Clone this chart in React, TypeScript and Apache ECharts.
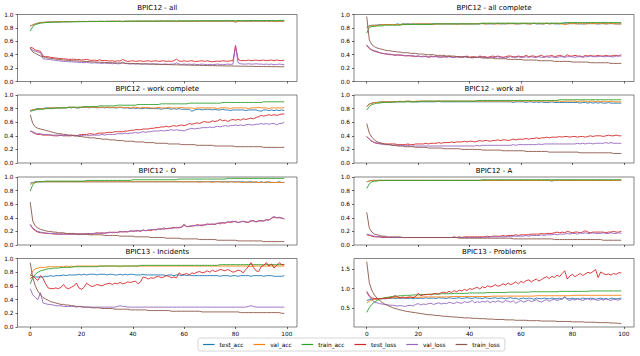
import React, { useEffect, useRef } from 'react';
import * as echarts from 'echarts';

const seriesNames = ['test_acc', 'val_acc', 'train_acc', 'test_loss', 'val_loss', 'train_loss'];
const seriesColors = ['#1f77b4', '#ff7f0e', '#2ca02c', '#d62728', '#9467bd', '#8c564b'];
const titles = [
  'BPIC12 - all', 'BPIC12 - all complete',
  'BPIC12 - work complete', 'BPIC12 - work all',
  'BPIC12 - O', 'BPIC12 - A',
  'BPIC13 - Incidents', 'BPIC13 - Problems',
];
const xTicks = [0, 20, 40, 60, 80, 100];
const problemsYTicks = [0.5, 1.0, 1.5];

// ---------- BPIC12 - all ----------
const allTrainAcc = [
  .75, .82, .85, .86, .87, .875, .88, .88, .885, .885,
  .886, .887, .888, .889, .89, .89, .89, .891, .892, .892,
  .893, .893, .894, .894, .895, .895, .895, .896, .896, .896,
  .897, .897, .897, .898, .898, .898, .899, .899, .899, .90,
  .90, .90, .90, .901, .901, .901, .902, .902, .902, .902,
  .903, .903, .903, .903, .904, .904, .904, .904, .905, .905,
  .905, .905, .905, .906, .906, .906, .906, .906, .907, .907,
  .907, .907, .907, .907, .908, .908, .908, .908, .908, .908,
  .909, .909, .909, .909, .909, .909, .91, .91, .91, .91,
  .91, .91, .91, .91, .911, .911, .911, .911, .911, .912,
];
const allValAcc = [
  .83, .84, .86, .87, .88, .88, .885, .89, .89, .888,
  .892, .89, .893, .894, .892, .895, .894, .896, .895, .897,
  .896, .897, .895, .898, .897, .898, .896, .899, .898, .897,
  .899, .898, .90, .899, .898, .90, .894, .899, .90, .899,
  .90, .899, .901, .90, .899, .901, .90, .90, .898, .901,
  .90, .901, .899, .902, .90, .901, .90, .896, .901, .902,
  .90, .901, .902, .90, .901, .899, .902, .901, .90, .902,
  .901, .90, .902, .901, .899, .902, .901, .90, .902, .90,
  .888, .90, .901, .902, .90, .901, .899, .902, .901, .90,
  .902, .90, .901, .899, .902, .90, .895, .901, .90, .902,
];
const allTestAcc = [
  .83, .845, .86, .872, .878, .882, .886, .888, .89, .889,
  .891, .89, .892, .893, .892, .894, .893, .895, .894, .896,
  .895, .896, .895, .897, .896, .897, .896, .898, .897, .896,
  .898, .897, .899, .898, .897, .899, .893, .898, .899, .898,
  .899, .898, .90, .899, .898, .90, .899, .899, .897, .90,
  .899, .90, .898, .901, .899, .90, .899, .895, .90, .901,
  .899, .90, .901, .899, .90, .898, .901, .90, .899, .901,
  .90, .899, .901, .90, .898, .901, .90, .899, .901, .899,
  .886, .899, .90, .901, .899, .90, .898, .901, .90, .899,
  .901, .899, .90, .898, .901, .899, .894, .90, .899, .901,
];
const allTestLoss = [
  .51, .50, .47, .46, .45, .38, .37, .37, .36, .355,
  .35, .345, .34, .34, .335, .33, .33, .335, .325, .33,
  .32, .325, .33, .32, .315, .32, .31, .325, .31, .315,
  .31, .305, .31, .30, .31, .305, .33, .31, .30, .305,
  .31, .30, .305, .31, .30, .305, .31, .30, .305, .31,
  .30, .305, .31, .30, .305, .30, .31, .335, .305, .30,
  .31, .30, .305, .31, .30, .30, .305, .31, .30, .31,
  .30, .295, .30, .305, .30, .31, .305, .30, .31, .31,
  .54, .33, .31, .315, .31, .32, .31, .315, .32, .31,
  .315, .32, .31, .315, .32, .31, .32, .315, .31, .32,
];
const allValLoss = [
  .49, .47, .45, .44, .43, .34, .335, .33, .325, .32,
  .315, .31, .305, .30, .30, .295, .295, .29, .29, .285,
  .285, .28, .285, .28, .275, .28, .275, .275, .27, .275,
  .27, .27, .265, .27, .265, .265, .29, .27, .265, .26,
  .265, .26, .265, .26, .26, .265, .26, .26, .265, .26,
  .26, .255, .26, .26, .255, .26, .26, .28, .26, .255,
  .26, .255, .26, .255, .26, .25, .255, .26, .255, .25,
  .255, .25, .255, .26, .255, .25, .255, .26, .255, .26,
  .52, .28, .265, .26, .26, .265, .26, .26, .265, .26,
  .26, .255, .26, .255, .26, .25, .255, .26, .255, .25,
];
const allTrainLoss = [
  .50, .44, .42, .40, .38, .37, .36, .35, .345, .34,
  .335, .33, .325, .32, .318, .315, .312, .31, .307, .305,
  .302, .30, .298, .296, .294, .292, .29, .288, .286, .285,
  .283, .281, .28, .278, .277, .275, .274, .272, .271, .27,
  .268, .267, .266, .264, .263, .262, .261, .26, .258, .257,
  .256, .255, .254, .253, .252, .251, .25, .249, .248, .247,
  .246, .245, .244, .243, .242, .242, .241, .24, .239, .238,
  .237, .237, .236, .235, .234, .234, .233, .232, .232, .231,
  .23, .23, .229, .228, .228, .227, .227, .226, .225, .225,
  .224, .224, .223, .223, .222, .222, .221, .221, .22, .22,
];

// ---------- BPIC12 - all complete ----------
const allcTrainAcc = [
  .72, .81, .82, .82, .83, .83, .83, .84, .84, .84,
  .84, .84, .84, .84, .85, .85, .85, .85, .85, .85,
  .85, .85, .85, .85, .85, .85, .86, .86, .86, .86,
  .86, .86, .86, .86, .86, .86, .86, .86, .86, .86,
  .86, .86, .86, .86, .86, .87, .87, .87, .87, .87,
  .87, .87, .87, .87, .87, .87, .87, .87, .87, .87,
  .87, .87, .87, .87, .87, .87, .87, .87, .87, .87,
  .87, .87, .87, .87, .87, .87, .87, .88, .88, .88,
  .88, .88, .88, .88, .88, .88, .88, .88, .88, .88,
  .88, .88, .88, .88, .88, .88, .88, .88, .88, .88,
];
const allcValAcc = [
  .80, .83, .83, .84, .84, .84, .85, .85, .85, .85,
  .85, .85, .85, .85, .86, .85, .86, .85, .86, .86,
  .86, .86, .86, .86, .86, .86, .85, .86, .86, .86,
  .86, .86, .86, .86, .86, .85, .86, .86, .86, .86,
  .86, .86, .86, .86, .87, .86, .86, .86, .87, .86,
  .86, .86, .86, .87, .86, .86, .87, .86, .86, .86,
  .87, .86, .87, .86, .86, .87, .86, .87, .86, .86,
  .87, .86, .86, .87, .87, .86, .86, .85, .86, .86,
  .87, .86, .86, .87, .86, .86, .86, .87, .86, .87,
  .86, .87, .86, .86, .87, .86, .87, .86, .86, .86,
];
const allcTestAcc = [
  .81, .83, .84, .84, .84, .85, .85, .85, .85, .85,
  .85, .85, .86, .85, .86, .86, .86, .86, .86, .86,
  .86, .86, .86, .86, .86, .86, .86, .86, .86, .86,
  .86, .86, .86, .86, .86, .86, .86, .86, .86, .86,
  .86, .86, .86, .86, .86, .87, .86, .86, .86, .86,
  .86, .87, .86, .86, .86, .87, .86, .87, .86, .86,
  .86, .87, .86, .86, .86, .87, .86, .86, .86, .86,
  .87, .86, .87, .86, .86, .86, .87, .86, .86, .87,
  .86, .87, .86, .86, .86, .86, .87, .86, .87, .86,
  .86, .86, .87, .86, .86, .87, .86, .86, .86, .86,
];
const allcTestLoss = [
  .54, .49, .47, .45, .44, .43, .42, .41, .41, .40,
  .40, .39, .40, .39, .39, .38, .39, .38, .38, .37,
  .38, .37, .37, .38, .36, .37, .37, .38, .37, .36,
  .37, .37, .38, .37, .36, .37, .37, .36, .37, .38,
  .36, .37, .37, .36, .38, .37, .37, .36, .37, .38,
  .37, .38, .37, .36, .37, .38, .38, .37, .37, .38,
  .37, .37, .39, .37, .38, .38, .37, .38, .39, .37,
  .38, .38, .39, .37, .38, .39, .38, .37, .40, .38,
  .38, .39, .38, .38, .37, .39, .38, .39, .38, .38,
  .39, .38, .38, .39, .38, .38, .39, .39, .38, .40,
];
const allcValLoss = [
  .55, .50, .47, .46, .45, .43, .42, .42, .41, .41,
  .40, .40, .39, .40, .39, .39, .38, .39, .38, .38,
  .38, .37, .38, .37, .37, .38, .37, .37, .36, .37,
  .37, .36, .37, .36, .36, .37, .36, .36, .37, .36,
  .36, .35, .36, .36, .37, .36, .36, .35, .36, .36,
  .36, .37, .36, .36, .35, .36, .37, .36, .36, .37,
  .36, .36, .37, .36, .37, .36, .36, .37, .36, .36,
  .37, .36, .37, .36, .36, .37, .37, .36, .37, .37,
  .37, .36, .37, .37, .36, .37, .37, .38, .37, .37,
  .37, .38, .37, .37, .38, .37, .37, .38, .38, .38,
];
const allcTrainLoss = [
  .97, .62, .55, .52, .50, .49, .48, .47, .46, .46,
  .45, .45, .44, .44, .43, .43, .43, .42, .42, .42,
  .41, .41, .41, .40, .40, .40, .40, .39, .39, .39,
  .39, .38, .38, .38, .38, .37, .37, .37, .37, .37,
  .36, .36, .36, .36, .36, .35, .35, .35, .35, .35,
  .34, .34, .34, .34, .34, .33, .33, .33, .33, .33,
  .33, .32, .32, .32, .32, .32, .32, .31, .31, .31,
  .31, .31, .31, .30, .30, .30, .30, .30, .30, .30,
  .29, .29, .29, .29, .29, .29, .29, .28, .28, .28,
  .28, .28, .28, .28, .28, .27, .27, .27, .27, .27,
];

// ---------- BPIC12 - work complete ----------
const wcTrainAcc = [
  .76, .77, .78, .79, .79, .79, .80, .80, .80, .80,
  .81, .81, .81, .81, .81, .82, .82, .82, .82, .82,
  .82, .83, .83, .83, .83, .83, .83, .84, .84, .84,
  .84, .84, .84, .84, .85, .85, .85, .85, .85, .85,
  .85, .85, .86, .86, .86, .86, .86, .86, .86, .86,
  .86, .87, .87, .87, .87, .87, .87, .87, .87, .87,
  .87, .87, .88, .88, .88, .88, .88, .88, .88, .88,
  .88, .88, .88, .88, .88, .89, .89, .89, .89, .89,
  .89, .89, .89, .89, .89, .89, .89, .89, .89, .89,
  .89, .90, .90, .90, .90, .90, .90, .90, .90, .90,
];
const wcValAcc = [
  .77, .78, .79, .79, .80, .80, .80, .81, .81, .81,
  .81, .81, .81, .82, .81, .82, .82, .82, .81, .82,
  .82, .82, .82, .82, .82, .82, .82, .81, .82, .82,
  .82, .82, .81, .82, .82, .82, .82, .81, .82, .81,
  .82, .82, .81, .81, .82, .81, .82, .81, .81, .81,
  .82, .81, .81, .81, .82, .81, .81, .81, .81, .82,
  .81, .81, .81, .81, .80, .81, .81, .81, .81, .81,
  .81, .81, .81, .80, .81, .81, .81, .81, .80, .81,
  .81, .81, .81, .81, .81, .80, .81, .81, .81, .82,
  .81, .81, .81, .80, .81, .81, .81, .81, .81, .81,
];
const wcTestAcc = [
  .77, .78, .79, .80, .80, .80, .81, .81, .81, .81,
  .81, .81, .81, .81, .81, .82, .81, .82, .81, .81,
  .82, .82, .82, .81, .82, .82, .81, .82, .82, .81,
  .82, .81, .82, .81, .81, .82, .81, .81, .81, .80,
  .81, .80, .81, .80, .80, .81, .80, .80, .80, .80,
  .80, .79, .80, .80, .80, .79, .80, .79, .80, .79,
  .79, .79, .79, .76, .78, .79, .79, .78, .79, .79,
  .79, .78, .79, .78, .78, .79, .78, .78, .77, .78,
  .78, .78, .78, .78, .77, .78, .78, .78, .78, .77,
  .76, .78, .78, .77, .78, .77, .78, .77, .78, .77,
];
const wcTestLoss = [
  .47, .45, .43, .42, .42, .41, .41, .41, .41, .40,
  .40, .40, .41, .40, .40, .40, .40, .41, .40, .41,
  .42, .42, .42, .43, .43, .42, .43, .44, .44, .44,
  .45, .45, .45, .46, .46, .46, .46, .47, .47, .48,
  .48, .49, .49, .49, .50, .50, .50, .51, .51, .52,
  .52, .53, .53, .54, .53, .54, .55, .54, .55, .56,
  .55, .56, .58, .57, .58, .59, .58, .60, .61, .60,
  .60, .62, .61, .62, .64, .62, .63, .61, .63, .64,
  .63, .64, .63, .65, .64, .65, .66, .65, .67, .68,
  .70, .69, .70, .71, .70, .71, .70, .71, .72, .72,
];
const wcValLoss = [
  .47, .46, .44, .43, .43, .42, .42, .42, .41, .41,
  .41, .41, .41, .40, .41, .40, .41, .40, .40, .41,
  .40, .41, .41, .40, .41, .41, .41, .41, .42, .41,
  .42, .42, .42, .42, .43, .43, .43, .44, .43, .44,
  .44, .45, .44, .45, .46, .45, .46, .46, .47, .47,
  .47, .48, .47, .48, .48, .49, .48, .49, .48, .48,
  .47, .49, .50, .51, .50, .51, .51, .52, .52, .52,
  .53, .52, .53, .54, .53, .54, .55, .54, .55, .55,
  .56, .55, .56, .55, .56, .57, .56, .56, .57, .57,
  .58, .57, .58, .57, .58, .58, .56, .58, .58, .60,
];
const wcTrainLoss = [
  .71, .58, .53, .51, .50, .49, .48, .47, .46, .45,
  .44, .43, .43, .42, .42, .41, .41, .40, .40, .39,
  .39, .38, .38, .37, .37, .37, .36, .36, .35, .35,
  .35, .34, .34, .34, .33, .33, .33, .32, .32, .32,
  .32, .31, .31, .31, .31, .30, .30, .30, .30, .29,
  .29, .29, .29, .29, .28, .28, .28, .28, .28, .27,
  .27, .27, .27, .27, .27, .26, .26, .26, .26, .26,
  .26, .26, .25, .25, .25, .25, .25, .25, .25, .25,
  .24, .24, .24, .24, .24, .24, .24, .24, .24, .24,
  .24, .23, .23, .23, .23, .23, .23, .23, .23, .23,
];

// ---------- BPIC12 - work all ----------
const waTrainAcc = [
  .78, .83, .86, .87, .88, .88, .89, .89, .89, .89,
  .89, .90, .90, .90, .90, .90, .90, .90, .90, .90,
  .90, .91, .91, .91, .91, .91, .91, .91, .91, .91,
  .91, .91, .91, .91, .91, .91, .91, .91, .91, .91,
  .91, .91, .91, .92, .92, .92, .92, .92, .92, .92,
  .92, .92, .92, .92, .92, .92, .92, .92, .92, .92,
  .92, .92, .92, .92, .92, .92, .92, .92, .92, .92,
  .92, .92, .92, .92, .92, .93, .93, .93, .93, .93,
  .93, .93, .93, .93, .93, .93, .93, .93, .93, .93,
  .93, .93, .93, .93, .93, .93, .93, .93, .93, .93,
];
const waValAcc = [
  .83, .86, .88, .89, .89, .89, .90, .90, .90, .90,
  .90, .90, .90, .91, .90, .91, .91, .91, .90, .91,
  .91, .91, .91, .91, .91, .91, .91, .91, .91, .91,
  .91, .91, .91, .91, .91, .91, .91, .91, .91, .91,
  .91, .91, .91, .91, .91, .91, .91, .91, .91, .91,
  .91, .91, .91, .91, .91, .91, .91, .91, .91, .91,
  .91, .91, .91, .91, .91, .91, .91, .91, .91, .91,
  .91, .91, .91, .91, .91, .91, .90, .91, .91, .91,
  .91, .91, .90, .91, .91, .91, .90, .91, .91, .90,
  .91, .90, .91, .90, .90, .91, .90, .90, .90, .90,
];
const waTestAcc = [
  .83, .87, .88, .89, .89, .90, .90, .90, .90, .90,
  .90, .90, .90, .90, .90, .90, .91, .90, .90, .90,
  .90, .90, .90, .90, .90, .90, .90, .90, .91, .90,
  .90, .90, .90, .90, .90, .90, .90, .90, .90, .90,
  .90, .90, .90, .90, .90, .90, .90, .90, .90, .90,
  .90, .90, .90, .90, .90, .90, .90, .89, .90, .90,
  .90, .90, .89, .90, .90, .89, .90, .89, .90, .89,
  .89, .89, .90, .89, .89, .89, .89, .89, .89, .89,
  .89, .89, .89, .88, .89, .89, .88, .89, .88, .89,
  .88, .89, .88, .88, .89, .88, .88, .88, .88, .88,
];
const waTestLoss = [
  .39, .35, .32, .30, .29, .29, .28, .28, .28, .28,
  .28, .28, .27, .27, .27, .27, .28, .27, .27, .28,
  .28, .28, .28, .29, .28, .29, .29, .29, .30, .29,
  .30, .30, .30, .31, .30, .31, .31, .31, .32, .31,
  .32, .32, .31, .32, .33, .32, .33, .33, .32, .33,
  .33, .34, .33, .34, .34, .33, .34, .35, .34, .35,
  .35, .35, .36, .35, .36, .36, .37, .36, .37, .37,
  .38, .37, .38, .38, .38, .39, .38, .39, .39, .38,
  .39, .39, .38, .39, .39, .38, .39, .40, .39, .40,
  .40, .40, .39, .40, .41, .40, .40, .41, .40, .40,
];
const waValLoss = [
  .39, .35, .32, .30, .29, .28, .28, .27, .27, .27,
  .26, .26, .26, .26, .26, .25, .26, .25, .25, .25,
  .25, .25, .25, .25, .25, .25, .25, .25, .25, .25,
  .25, .25, .25, .25, .25, .25, .25, .25, .25, .25,
  .25, .25, .25, .26, .25, .26, .26, .26, .26, .26,
  .26, .26, .26, .26, .26, .26, .26, .27, .26, .27,
  .27, .27, .27, .27, .27, .27, .27, .28, .27, .28,
  .28, .28, .28, .28, .28, .28, .28, .28, .28, .28,
  .28, .28, .29, .28, .29, .28, .29, .29, .28, .29,
  .29, .29, .29, .30, .29, .30, .29, .29, .29, .29,
];
const waTrainLoss = [
  .58, .44, .38, .34, .31, .30, .29, .28, .27, .27,
  .26, .26, .25, .25, .25, .24, .24, .24, .24, .23,
  .23, .23, .23, .23, .22, .22, .22, .22, .22, .22,
  .21, .21, .21, .21, .21, .21, .21, .20, .20, .20,
  .20, .20, .20, .20, .20, .19, .19, .19, .19, .19,
  .19, .19, .19, .18, .18, .18, .18, .18, .18, .18,
  .18, .18, .17, .17, .17, .17, .17, .17, .17, .17,
  .17, .16, .16, .16, .16, .16, .16, .16, .16, .16,
  .16, .16, .16, .15, .15, .15, .15, .15, .15, .15,
  .15, .15, .15, .15, .15, .15, .14, .14, .14, .14,
];

// ---------- BPIC12 - O ----------
const oTrainAcc = [
  .79, .89, .92, .93, .93, .93, .94, .94, .94, .94,
  .94, .94, .94, .94, .94, .94, .94, .94, .94, .94,
  .94, .94, .95, .95, .95, .95, .95, .95, .95, .95,
  .95, .95, .95, .95, .95, .95, .95, .95, .95, .95,
  .96, .96, .96, .96, .96, .96, .96, .96, .96, .96,
  .96, .96, .96, .96, .96, .96, .96, .96, .97, .97,
  .97, .97, .97, .97, .97, .97, .97, .97, .97, .97,
  .97, .97, .97, .97, .97, .97, .97, .98, .98, .98,
  .98, .98, .98, .98, .98, .98, .98, .98, .98, .98,
  .98, .98, .98, .98, .98, .98, .98, .98, .98, .98,
];
const oValAcc = [
  .89, .91, .92, .93, .93, .93, .93, .93, .93, .93,
  .93, .93, .93, .93, .93, .93, .93, .93, .93, .93,
  .93, .93, .93, .93, .93, .93, .93, .93, .93, .93,
  .93, .93, .93, .93, .93, .93, .93, .93, .93, .93,
  .93, .93, .93, .93, .93, .93, .93, .93, .93, .93,
  .93, .93, .93, .93, .93, .93, .93, .93, .93, .93,
  .93, .93, .93, .93, .93, .93, .92, .93, .93, .93,
  .93, .92, .93, .93, .93, .92, .93, .92, .93, .93,
  .92, .93, .92, .92, .93, .92, .92, .93, .92, .92,
  .92, .92, .93, .92, .92, .92, .92, .92, .92, .92,
];
const oTestAcc = [
  .91, .92, .93, .93, .93, .93, .93, .93, .93, .93,
  .93, .93, .93, .93, .93, .93, .93, .93, .93, .93,
  .93, .93, .93, .93, .93, .93, .93, .93, .93, .93,
  .93, .93, .93, .93, .93, .93, .93, .93, .93, .93,
  .93, .93, .93, .93, .93, .93, .93, .93, .93, .93,
  .93, .93, .93, .93, .93, .93, .93, .93, .93, .93,
  .93, .93, .93, .93, .93, .93, .93, .93, .93, .93,
  .93, .93, .93, .93, .93, .93, .93, .93, .93, .93,
  .93, .93, .93, .93, .92, .93, .93, .92, .93, .92,
  .93, .92, .92, .93, .92, .92, .92, .93, .92, .92,
];
const oTestLoss = [
  .30, .24, .21, .19, .18, .18, .17, .17, .17, .16,
  .16, .16, .16, .16, .16, .16, .16, .16, .16, .16,
  .16, .16, .16, .17, .16, .17, .18, .17, .18, .17,
  .18, .19, .18, .19, .18, .20, .19, .20, .19, .21,
  .20, .21, .21, .20, .22, .21, .22, .21, .23, .22,
  .24, .23, .25, .24, .24, .25, .26, .25, .26, .26,
  .29, .27, .27, .28, .28, .30, .29, .28, .30, .31,
  .30, .31, .30, .32, .31, .33, .32, .34, .33, .34,
  .35, .33, .34, .35, .34, .33, .35, .36, .34, .35,
  .36, .35, .37, .37, .39, .41, .40, .40, .40, .38,
];
const oValLoss = [
  .30, .25, .22, .20, .19, .18, .18, .17, .17, .17,
  .17, .16, .16, .16, .16, .16, .16, .16, .16, .16,
  .16, .16, .17, .16, .17, .17, .17, .18, .17, .18,
  .18, .18, .19, .18, .19, .19, .20, .19, .20, .20,
  .21, .20, .21, .21, .22, .21, .22, .23, .22, .23,
  .23, .24, .23, .24, .25, .24, .25, .26, .25, .27,
  .31, .27, .28, .28, .29, .28, .29, .30, .29, .30,
  .31, .30, .31, .32, .33, .32, .33, .34, .34, .35,
  .34, .33, .34, .35, .33, .34, .36, .35, .34, .36,
  .35, .36, .37, .36, .40, .42, .40, .41, .39, .39,
];
const oTrainLoss = [
  .63, .35, .28, .25, .23, .22, .21, .20, .20, .19,
  .19, .18, .18, .18, .17, .17, .17, .17, .16, .16,
  .16, .16, .16, .15, .15, .15, .15, .15, .15, .14,
  .14, .14, .14, .14, .14, .13, .13, .13, .13, .13,
  .13, .12, .12, .12, .12, .12, .12, .11, .11, .11,
  .11, .11, .11, .10, .10, .10, .10, .10, .10, .09,
  .09, .09, .09, .09, .09, .09, .08, .08, .08, .08,
  .08, .08, .08, .07, .07, .07, .07, .07, .07, .07,
  .07, .06, .06, .06, .06, .06, .06, .06, .06, .06,
  .06, .05, .05, .05, .05, .05, .05, .05, .05, .05,
];

// ---------- BPIC12 - A ----------
const aTrainAcc = [
  .83, .90, .93, .94, .94, .95, .95, .95, .95, .95,
  .95, .95, .95, .95, .95, .95, .95, .95, .95, .95,
  .95, .95, .95, .95, .95, .95, .95, .95, .95, .95,
  .95, .95, .95, .95, .95, .95, .95, .95, .95, .95,
  .95, .95, .95, .95, .95, .96, .96, .96, .96, .96,
  .96, .96, .96, .96, .96, .96, .96, .96, .96, .96,
  .96, .96, .96, .96, .96, .96, .96, .96, .96, .96,
  .96, .96, .96, .96, .96, .96, .96, .96, .96, .96,
  .96, .96, .96, .96, .96, .96, .96, .96, .96, .96,
  .96, .96, .96, .96, .96, .96, .96, .96, .96, .96,
];
const aValAcc = [
  .93, .94, .95, .95, .95, .95, .95, .95, .95, .95,
  .95, .95, .95, .95, .95, .95, .95, .95, .95, .95,
  .95, .95, .95, .95, .95, .95, .95, .95, .95, .95,
  .95, .95, .95, .95, .95, .95, .95, .95, .95, .95,
  .95, .95, .95, .95, .95, .95, .95, .95, .95, .95,
  .95, .95, .95, .95, .95, .95, .95, .95, .95, .95,
  .95, .95, .95, .95, .95, .95, .95, .95, .95, .95,
  .95, .95, .95, .95, .95, .95, .95, .95, .95, .95,
  .95, .95, .95, .95, .95, .95, .95, .95, .95, .95,
  .95, .95, .95, .95, .95, .95, .95, .95, .95, .95,
];
const aTestAcc = [
  .93, .94, .95, .95, .95, .95, .95, .95, .95, .95,
  .95, .95, .95, .95, .95, .95, .95, .95, .95, .95,
  .95, .95, .95, .95, .95, .95, .95, .95, .95, .95,
  .95, .95, .95, .95, .95, .95, .95, .95, .95, .95,
  .95, .95, .95, .95, .95, .95, .95, .95, .95, .95,
  .95, .95, .95, .95, .95, .95, .95, .95, .95, .95,
  .95, .95, .95, .95, .95, .95, .95, .95, .95, .95,
  .95, .95, .94, .95, .95, .95, .95, .95, .95, .95,
  .95, .95, .95, .95, .95, .95, .95, .95, .95, .95,
  .95, .95, .95, .95, .95, .95, .95, .95, .95, .95,
];
const aTestLoss = [
  .15, .14, .13, .12, .12, .12, .11, .11, .11, .11,
  .11, .11, .11, .11, .11, .11, .11, .11, .11, .11,
  .11, .11, .11, .11, .11, .11, .11, .11, .11, .11,
  .11, .11, .11, .11, .12, .11, .12, .11, .12, .12,
  .12, .12, .12, .12, .12, .12, .12, .13, .12, .13,
  .13, .13, .13, .14, .13, .14, .14, .14, .15, .14,
  .15, .15, .15, .15, .16, .16, .16, .16, .17, .16,
  .17, .17, .17, .18, .19, .18, .19, .18, .20, .19,
  .18, .19, .19, .18, .19, .21, .19, .18, .19, .19,
  .19, .19, .19, .18, .19, .19, .20, .19, .19, .20,
];
const aValLoss = [
  .16, .15, .14, .13, .12, .12, .12, .12, .11, .11,
  .11, .11, .11, .11, .11, .11, .11, .11, .11, .11,
  .11, .11, .11, .11, .11, .11, .11, .11, .11, .11,
  .11, .11, .11, .11, .11, .11, .11, .11, .11, .11,
  .11, .11, .11, .11, .11, .11, .12, .11, .12, .12,
  .12, .12, .12, .12, .12, .13, .12, .13, .13, .13,
  .13, .13, .14, .13, .14, .14, .14, .14, .15, .14,
  .15, .15, .15, .16, .15, .16, .16, .16, .17, .16,
  .17, .17, .16, .18, .17, .18, .17, .17, .18, .17,
  .17, .17, .18, .17, .17, .18, .17, .17, .18, .17,
];
const aTrainLoss = [
  .48, .25, .19, .16, .15, .14, .13, .13, .12, .12,
  .12, .12, .12, .12, .11, .11, .11, .11, .11, .11,
  .11, .11, .11, .11, .11, .11, .11, .11, .11, .11,
  .11, .11, .11, .11, .11, .11, .10, .10, .10, .10,
  .10, .10, .10, .10, .10, .10, .10, .10, .10, .10,
  .10, .10, .10, .10, .10, .10, .10, .09, .09, .09,
  .09, .09, .09, .09, .09, .09, .09, .09, .09, .09,
  .09, .09, .09, .08, .08, .08, .08, .08, .08, .08,
  .08, .08, .08, .08, .08, .08, .08, .08, .08, .08,
  .08, .08, .07, .07, .07, .07, .07, .07, .07, .07,
];

// ---------- BPIC13 - Incidents ----------
const incTrainAcc = [
  .63, .72, .77, .80, .82, .83, .84, .85, .85, .86,
  .86, .86, .87, .87, .87, .87, .87, .88, .88, .88,
  .88, .88, .88, .88, .88, .88, .88, .89, .89, .89,
  .89, .89, .89, .89, .89, .89, .89, .89, .89, .89,
  .89, .89, .89, .90, .90, .90, .90, .90, .90, .90,
  .90, .90, .90, .90, .90, .90, .90, .90, .90, .90,
  .90, .90, .90, .90, .90, .90, .90, .90, .90, .90,
  .90, .90, .90, .90, .91, .91, .91, .91, .91, .91,
  .91, .91, .91, .91, .91, .91, .91, .91, .91, .91,
  .91, .91, .91, .91, .91, .91, .91, .91, .91, .91,
];
const incValAcc = [
  .74, .82, .85, .86, .87, .87, .87, .88, .88, .88,
  .88, .88, .88, .88, .89, .88, .89, .88, .89, .89,
  .89, .89, .89, .89, .89, .89, .89, .89, .89, .89,
  .89, .89, .89, .89, .89, .88, .89, .89, .89, .89,
  .89, .89, .89, .89, .89, .89, .89, .89, .89, .89,
  .89, .89, .89, .89, .89, .89, .89, .89, .89, .89,
  .89, .89, .89, .89, .89, .89, .89, .89, .89, .89,
  .89, .89, .89, .89, .89, .89, .89, .89, .89, .89,
  .89, .89, .89, .89, .89, .89, .88, .89, .89, .89,
  .89, .89, .89, .89, .89, .89, .89, .89, .89, .89,
];
const incTestAcc = [
  .76, .74, .73, .73, .73, .73, .74, .74, .75, .74,
  .75, .75, .75, .76, .75, .76, .76, .76, .76, .77,
  .76, .77, .76, .77, .77, .77, .76, .77, .77, .77,
  .76, .77, .77, .76, .76, .77, .76, .77, .76, .77,
  .77, .76, .76, .76, .77, .76, .76, .76, .76, .76,
  .76, .76, .76, .75, .76, .76, .75, .76, .76, .75,
  .76, .75, .76, .75, .75, .75, .75, .75, .75, .75,
  .75, .75, .75, .75, .74, .75, .75, .75, .74, .75,
  .75, .74, .75, .75, .75, .75, .74, .75, .75, .75,
  .75, .74, .75, .75, .75, .74, .74, .74, .74, .75,
];
const incTestLoss = [
  .70, .74, .71, .68, .75, .71, .63, .57, .56, .56,
  .57, .56, .58, .62, .57, .56, .58, .60, .64, .57,
  .55, .58, .64, .61, .59, .60, .62, .61, .60, .62,
  .63, .64, .62, .64, .63, .65, .63, .64, .66, .65,
  .66, .67, .63, .66, .73, .72, .70, .72, .71, .73,
  .74, .72, .73, .75, .74, .72, .73, .72, .79, .76,
  .77, .78, .76, .79, .78, .80, .81, .79, .80, .82,
  .80, .83, .81, .82, .84, .83, .82, .84, .82, .80,
  .81, .83, .82, .79, .84, .88, .94, .87, .82, .81,
  .88, .90, .94, .89, .92, .86, .90, .94, .91, .91,
];
const incValLoss = [
  .56, .47, .43, .40, .50, .35, .34, .33, .33, .32,
  .31, .31, .31, .30, .30, .30, .30, .30, .29, .30,
  .29, .29, .29, .29, .29, .29, .29, .29, .29, .29,
  .29, .29, .29, .29, .30, .31, .30, .30, .29, .29,
  .29, .29, .29, .29, .29, .29, .29, .29, .29, .29,
  .29, .29, .29, .29, .29, .29, .29, .29, .29, .29,
  .29, .29, .29, .29, .29, .29, .29, .29, .29, .29,
  .29, .29, .29, .29, .29, .29, .29, .29, .29, .29,
  .29, .29, .29, .29, .29, .30, .31, .30, .29, .29,
  .29, .29, .29, .29, .29, .29, .29, .29, .29, .29,
];
const incTrainLoss = [
  .94, .72, .60, .52, .47, .43, .41, .39, .37, .36,
  .35, .34, .33, .33, .32, .32, .31, .31, .30, .30,
  .30, .29, .29, .29, .28, .28, .28, .28, .27, .27,
  .27, .27, .27, .26, .26, .26, .26, .26, .26, .25,
  .25, .25, .25, .25, .25, .25, .24, .24, .24, .24,
  .24, .24, .24, .24, .24, .23, .23, .23, .23, .23,
  .23, .23, .23, .23, .23, .23, .23, .22, .22, .22,
  .22, .22, .22, .22, .22, .22, .22, .22, .22, .22,
  .22, .22, .21, .21, .21, .21, .21, .21, .21, .21,
  .21, .21, .21, .21, .21, .21, .21, .21, .20, .20,
];

// ---------- BPIC13 - Problems ----------
const probTrainAcc = [
  .40, .52, .60, .66, .70, .73, .75, .77, .78, .79,
  .80, .81, .81, .82, .82, .83, .83, .83, .84, .84,
  .84, .85, .85, .85, .85, .86, .86, .86, .86, .87,
  .87, .87, .87, .87, .88, .88, .88, .88, .88, .88,
  .89, .89, .89, .89, .89, .89, .89, .90, .90, .90,
  .90, .90, .90, .90, .90, .91, .91, .91, .91, .91,
  .91, .91, .91, .91, .92, .92, .92, .92, .92, .92,
  .92, .92, .92, .92, .92, .93, .93, .93, .93, .93,
  .93, .93, .93, .93, .93, .93, .93, .94, .94, .94,
  .94, .94, .94, .94, .94, .94, .94, .94, .94, .94,
];
const probValAcc = [
  .64, .68, .71, .73, .74, .75, .75, .76, .76, .77,
  .77, .77, .77, .77, .78, .78, .78, .78, .78, .78,
  .78, .78, .79, .79, .79, .79, .79, .79, .79, .79,
  .79, .79, .79, .80, .80, .80, .80, .80, .80, .80,
  .80, .80, .80, .80, .80, .80, .80, .80, .80, .81,
  .81, .81, .81, .81, .81, .81, .81, .81, .81, .81,
  .81, .81, .81, .81, .81, .81, .82, .82, .82, .82,
  .82, .82, .82, .82, .82, .82, .82, .82, .82, .82,
  .83, .83, .83, .83, .83, .83, .83, .83, .83, .83,
  .83, .83, .83, .83, .83, .83, .83, .83, .83, .83,
];
const probTestAcc = [
  .70, .72, .73, .74, .74, .75, .75, .74, .75, .75,
  .76, .75, .76, .75, .76, .76, .75, .76, .74, .76,
  .75, .76, .75, .77, .75, .76, .76, .75, .77, .76,
  .76, .75, .77, .76, .75, .76, .77, .75, .76, .77,
  .76, .75, .77, .76, .76, .75, .77, .76, .75, .76,
  .77, .75, .76, .76, .74, .76, .77, .75, .76, .73,
  .75, .76, .74, .76, .75, .73, .76, .75, .74, .76,
  .75, .74, .76, .75, .74, .76, .73, .78, .75, .74,
  .76, .74, .75, .73, .76, .75, .74, .76, .75, .73,
  .75, .76, .74, .75, .73, .76, .75, .74, .75, .76,
];
const probTestLoss = [
  .93, .82, .76, .75, .74, .75, .74, .76, .75, .77,
  .78, .82, .79, .77, .78, .76, .78, .79, .77, .80,
  .88, .82, .84, .85, .86, .84, .87, .88, .86, .90,
  .91, .89, .93, .90, .95, .92, .96, .94, .98, .95,
  1.00, .98, 1.01, 1.03, .99, 1.05, 1.02, 1.07, 1.04, 1.06,
  1.10, 1.06, 1.08, 1.12, 1.09, 1.14, 1.10, 1.13, 1.17, 1.12,
  1.18, 1.15, 1.20, 1.22, 1.17, 1.21, 1.24, 1.19, 1.23, 1.27,
  1.30, 1.25, 1.31, 1.28, 1.34, 1.30, 1.38, 1.45, 1.24, 1.32,
  1.36, 1.30, 1.34, 1.38, 1.33, 1.37, 1.41, 1.39, 1.43, 1.48,
  1.28, 1.42, 1.38, 1.35, 1.37, 1.34, 1.38, 1.36, 1.40, 1.40,
];
const probValLoss = [
  .90, .80, .72, .66, .64, .62, .61, .60, .59, .58,
  .58, .57, .56, .57, .56, .55, .57, .58, .56, .60,
  .62, .59, .61, .60, .62, .63, .60, .62, .64, .61,
  .63, .62, .65, .64, .62, .66, .64, .63, .67, .65,
  .66, .70, .64, .67, .65, .68, .66, .69, .64, .68,
  .66, .69, .67, .65, .70, .68, .66, .69, .63, .67,
  .70, .66, .68, .71, .67, .69, .72, .68, .66, .70,
  .72, .68, .71, .73, .70, .72, .74, .80, .72, .70,
  .73, .71, .74, .72, .70, .73, .75, .71, .74, .72,
  .70, .73, .71, .74, .72, .70, .73, .72, .71, .74,
];
const probTrainLoss = [
  1.68, 1.15, .95, .84, .76, .70, .65, .61, .58, .55,
  .52, .50, .48, .46, .45, .43, .42, .41, .40, .39,
  .38, .37, .36, .35, .34, .34, .33, .32, .32, .31,
  .30, .30, .29, .29, .28, .28, .27, .27, .26, .26,
  .26, .25, .25, .25, .24, .24, .24, .23, .23, .23,
  .22, .22, .22, .22, .21, .21, .21, .21, .20, .20,
  .20, .20, .20, .19, .19, .19, .19, .19, .18, .18,
  .18, .18, .18, .18, .17, .17, .17, .17, .17, .17,
  .16, .16, .16, .16, .16, .15, .15, .15, .15, .15,
  .14, .14, .14, .14, .14, .13, .13, .13, .12, .12,
];

const panels = [
  [allTestAcc, allValAcc, allTrainAcc, allTestLoss, allValLoss, allTrainLoss],
  [allcTestAcc, allcValAcc, allcTrainAcc, allcTestLoss, allcValLoss, allcTrainLoss],
  [wcTestAcc, wcValAcc, wcTrainAcc, wcTestLoss, wcValLoss, wcTrainLoss],
  [waTestAcc, waValAcc, waTrainAcc, waTestLoss, waValLoss, waTrainLoss],
  [oTestAcc, oValAcc, oTrainAcc, oTestLoss, oValLoss, oTrainLoss],
  [aTestAcc, aValAcc, aTrainAcc, aTestLoss, aValLoss, aTrainLoss],
  [incTestAcc, incValAcc, incTrainAcc, incTestLoss, incValLoss, incTrainLoss],
  [probTestAcc, probValAcc, probTrainAcc, probTestLoss, probValLoss, probTrainLoss],
];

export default function App() {
  const ref = useRef<HTMLDivElement>(null);
  useEffect(() => {
    const chart = echarts.init(ref.current as HTMLDivElement, null, { renderer: 'svg' });
    const font = 'DejaVu Sans';
    const colLeft = [17.5, 354];
    const colWidth = [279.5, 280];
    const rowTop = [14.5, 95, 177, 258.5];
    const rowHeight = [67, 68, 68, 68.5];
    const grid: any[] = [];
    const xAxis: any[] = [];
    const yAxis: any[] = [];
    const title: any[] = [];
    const series: any[] = [];
    const tickStyle = { color: '#000', width: 0.6 };
    const labelBase = { fontSize: 5.8, color: '#000', fontFamily: font };

    panels.forEach((p, i) => {
      const r = Math.floor(i / 2);
      const c = i % 2;
      grid.push({
        left: colLeft[c], top: rowTop[r], width: colWidth[c], height: rowHeight[r],
        show: true, borderColor: '#333', borderWidth: 0.6, backgroundColor: 'transparent',
      });
      title.push({
        text: titles[i],
        left: colLeft[c] + colWidth[c] / 2,
        top: rowTop[r] - 10.5,
        textAlign: 'center',
        padding: 0,
        textStyle: { fontSize: 7, fontWeight: 'normal', color: '#000', fontFamily: font, lineHeight: 8 },
      });
      xAxis.push({
        type: 'value', gridIndex: i, min: -4.95, max: 103.95,
        splitLine: { show: false },
        axisLine: { show: false, onZero: false },
        axisTick: { show: true, length: 2, lineStyle: tickStyle, customValues: xTicks },
        axisLabel: {
          show: r === 3, customValues: xTicks, margin: 4, ...labelBase,
          formatter: (v: number) => String(Math.round(v)),
        },
      });
      const isProblems = i === 7;
      yAxis.push(isProblems ? {
        type: 'value', gridIndex: i, min: 0.03, max: 1.76,
        splitLine: { show: false },
        axisLine: { show: false, onZero: false },
        axisTick: { show: true, length: 2, lineStyle: tickStyle, customValues: problemsYTicks },
        axisLabel: { customValues: problemsYTicks, margin: 4, ...labelBase, formatter: (v: number) => v.toFixed(1) },
      } : {
        type: 'value', gridIndex: i, min: 0, max: 1, interval: 0.2,
        splitLine: { show: false },
        axisLine: { show: false, onZero: false },
        axisTick: { show: true, length: 2, lineStyle: tickStyle },
        axisLabel: { margin: 4, ...labelBase, formatter: (v: number) => v.toFixed(1) },
      });
      p.forEach((arr, k) => {
        series.push({
          type: 'line',
          name: seriesNames[k],
          xAxisIndex: i,
          yAxisIndex: i,
          data: arr.map((v, idx) => [idx, v]),
          symbol: 'none',
          showSymbol: false,
          lineStyle: { width: 0.9, color: seriesColors[k] },
          itemStyle: { color: seriesColors[k] },
          emphasis: { disabled: true },
          z: 2 + k,
        });
      });
    });

    chart.setOption({
      animation: false,
      backgroundColor: '#fff',
      title,
      grid,
      xAxis,
      yAxis,
      series,
      legend: {
        data: seriesNames.map((n, k) => ({ name: n, icon: 'rect', itemStyle: { color: seriesColors[k] } })),
        left: 198,
        top: 338,
        orient: 'horizontal',
        itemWidth: 11.6,
        itemHeight: 1.2,
        itemGap: 10,
        padding: [3, 5],
        borderColor: '#ccc',
        borderWidth: 0.8,
        borderRadius: 2,
        backgroundColor: '#fff',
        selectedMode: false,
        textStyle: { fontSize: 5.8, color: '#000', fontFamily: font, lineHeight: 7 },
      },
    });
    return () => chart.dispose();
  }, []);
  return (
    <div
      ref={ref}
      style={{ position: 'absolute', left: 0, top: 0, width: 640, height: 356 }}
    />
  );
}
